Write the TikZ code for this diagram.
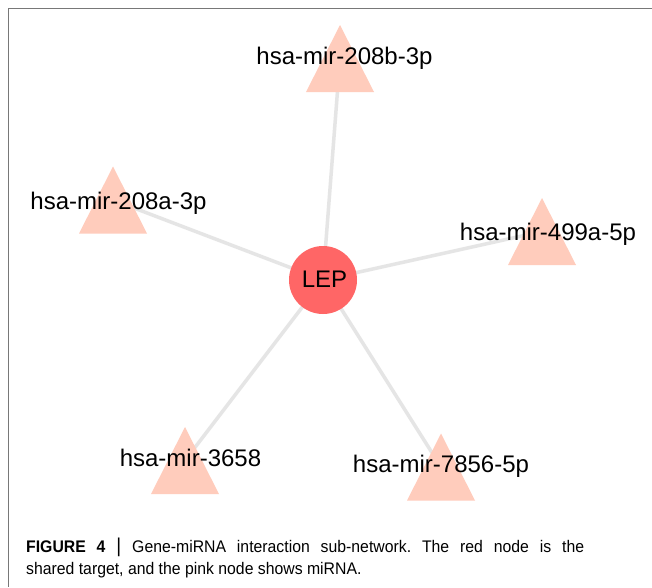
\documentclass[tikz,border=0pt]{standalone}
\usepackage{fontspec}
\setmainfont{Liberation Sans}
\newfontfamily\capfont[FakeStretch=0.94]{Liberation Sans}
\frenchspacing
\pgfdeclarelayer{paper}
\pgfdeclarelayer{edges}
\pgfsetlayers{paper,edges,main}
\definecolor{mirpink}{RGB}{255,204,188}
\definecolor{genered}{RGB}{255,102,102}
\definecolor{edgegray}{RGB}{229,229,229}
\definecolor{framegray}{RGB}{120,120,120}
\tikzset{
  mirfill/.style={fill=mirpink},
  genenode/.style={circle, fill=genered, minimum size=68pt, inner sep=0pt},
  lbl/.style={anchor=base, inner sep=0pt, font=\fontsize{24}{28}\selectfont},
  link/.style={draw=edgegray, line width=3.5pt},
  frameline/.style={draw=framegray, line width=1.5pt},
  captext/.style={anchor=base west, inner sep=0pt, font=\capfont\fontsize{16.8}{20}\selectfont},
  mirtri/.pic={\fill[mirfill] (0,-33.5) -- (34,33.5) -- (-34,33.5) -- cycle;}
}
\begin{document}
\begin{tikzpicture}[x=1pt,y=-1pt]
\useasboundingbox (0,0) rectangle (652,587);
\begin{pgfonlayer}{paper}
\fill[white] (0,0) rectangle (652,587);
\end{pgfonlayer}

% frame lines
\coordinate (fTL) at (8.5,8.5);
\coordinate (fTR) at (652,8.5);
\coordinate (fBL) at (8.5,587);
\draw[frameline] (fTR) -- (fTL) -- (fBL);

% miRNA triangles (centres)
\coordinate (m208b) at (340,58.5);
\coordinate (m208a) at (113,200);
\coordinate (m499a) at (542,231.5);
\coordinate (m3658) at (185,460.5);
\coordinate (m7856) at (441,467);
\foreach \c in {m208b,m208a,m499a,m3658,m7856}{
  \pic at (\c) {mirtri};
}

% target gene
\node[genenode] (lep) at (323,280) {};
\node[lbl] (leplbl) at (324.5,287) {LEP};

% interactions
\begin{pgfonlayer}{edges}
\foreach \c in {m208b,m208a,m499a,m3658,m7856}{
  \draw[link] (lep.center) -- (\c);
}
\end{pgfonlayer}

% miRNA labels
\node[lbl] (l208b) at (344.5,64) {hsa-mir-208b-3p};
\node[lbl] (l208a) at (118.5,209) {hsa-mir-208a-3p};
\node[lbl] (l499a) at (548,240) {hsa-mir-499a-5p};
\node[lbl] (l3658) at (190.5,466) {hsa-mir-3658};
\node[lbl] (l7856) at (441,472) {hsa-mir-7856-5p};

% caption (first line set full width)
\node[captext] (cap1) at (26,552) {\makebox[558pt][s]{\textbf{FIGURE 4} {\fontsize{20}{20}\selectfont|} Gene-miRNA interaction sub-network. The red node is the}};
\node[captext] (cap2) at (26,574) {shared target, and the pink node shows miRNA.};
\end{tikzpicture}
\end{document}
